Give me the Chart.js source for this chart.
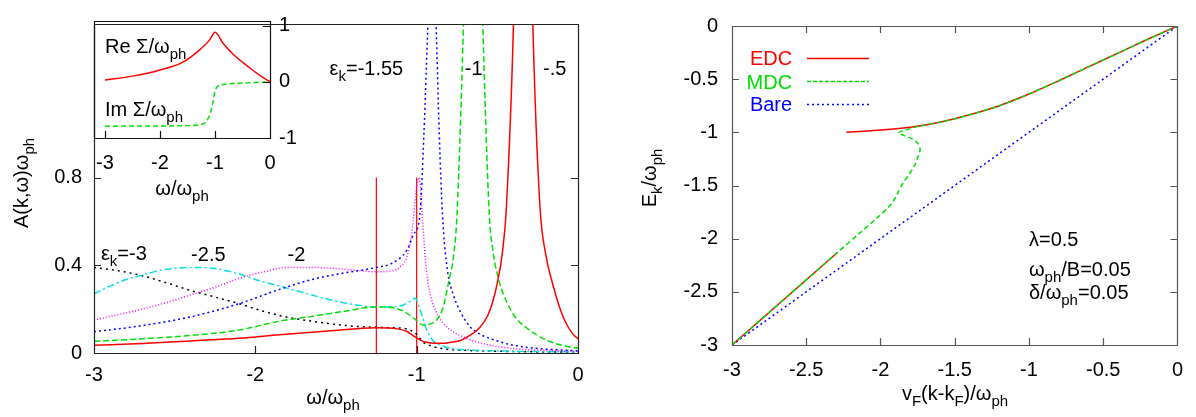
<!DOCTYPE html>
<html lang="en">
<head>
  <meta charset="UTF-8">
  <title>Spectral function and dispersion</title>
  <script src="https://cdn.jsdelivr.net/npm/chart.js"></script>
  <style>
    html, body { margin: 0; padding: 0; background: #fff; }
    .wrap { position: relative; width: 1196px; height: 417px; }
    .wrap canvas { position: absolute; left: 0; top: 0; }
  </style>
</head>
<body>
  <div class="wrap">
    <canvas id="mainChart" width="1196" height="417"></canvas>
    <canvas id="insetChart" width="1196" height="417"></canvas>
    <canvas id="dispChart" width="1196" height="417"></canvas>
  </div>

  <script>
    // ---- A(k,w) vs w/w_ph, one curve per bare energy eps_k ----
    const wK3 = [-3, -2.85, -2.7, -2.55, -2.4, -2.25, -2.1, -1.95, -1.8, -1.65, -1.5, -1.35, -1.25, -1.15, -1.06, -1.0, -0.96, -0.9, -0.81, -0.7, -0.5, -0.25, 0];
    const aK3 = [0.39, 0.375, 0.352, 0.32, 0.285, 0.255, 0.225, 0.19, 0.163, 0.145, 0.13, 0.12, 0.117, 0.115, 0.11, 0.085, 0.05, 0.03, 0.017, 0.012, 0.008, 0.005, 0.004];

    const wK25 = [-3, -2.9, -2.8, -2.7, -2.6, -2.5, -2.37, -2.25, -2.1, -2.0, -1.85, -1.7, -1.55, -1.4, -1.25, -1.15, -1.08, -1.03, -1.01, -0.98, -0.94, -0.9, -0.85, -0.78, -0.65, -0.4, 0];
    const aK25 = [0.27, 0.305, 0.335, 0.355, 0.375, 0.386, 0.39, 0.385, 0.36, 0.335, 0.305, 0.275, 0.245, 0.222, 0.21, 0.21, 0.22, 0.24, 0.25, 0.2, 0.11, 0.057, 0.035, 0.02, 0.013, 0.008, 0.005];

    const wK2 = [-3, -2.85, -2.7, -2.55, -2.4, -2.25, -2.1, -1.95, -1.8, -1.65, -1.5, -1.35, -1.25, -1.15, -1.1, -1.06, -1.03, -1.0, -0.985, -0.965, -0.94, -0.91, -0.88, -0.84, -0.78, -0.7, -0.6, -0.4, -0.2, 0];
    const aK2 = [0.15, 0.175, 0.2, 0.23, 0.265, 0.3, 0.34, 0.37, 0.39, 0.39, 0.385, 0.375, 0.37, 0.375, 0.395, 0.44, 0.55, 0.76, 0.8, 0.62, 0.38, 0.25, 0.19, 0.14, 0.1, 0.07, 0.045, 0.02, 0.012, 0.008];

    const wK155 = [-3, -2.7, -2.4, -2.1, -1.85, -1.65, -1.45, -1.25, -1.15, -1.06, -1.02, -0.98, -0.955, -0.93, -0.905, -0.88, -0.86, -0.84, -0.81, -0.77, -0.73, -0.67, -0.61, -0.5, -0.4, -0.2, 0];
    const aK155 = [0.097, 0.125, 0.165, 0.225, 0.29, 0.335, 0.365, 0.39, 0.41, 0.47, 0.54, 0.63, 1.0, 1.5, 1.9, 1.5, 1.0, 0.63, 0.38, 0.26, 0.19, 0.12, 0.087, 0.055, 0.035, 0.018, 0.01];

    const wK1 = [-3, -2.7, -2.4, -2.1, -1.85, -1.65, -1.45, -1.25, -1.15, -1.08, -1.02, -0.96, -0.9, -0.84, -0.8, -0.77, -0.75, -0.71, -0.68, -0.65, -0.62, -0.59, -0.55, -0.53, -0.49, -0.44, -0.38, -0.32, -0.25, -0.19, -0.1, 0];
    const aK1 = [0.053, 0.065, 0.08, 0.105, 0.145, 0.167, 0.19, 0.21, 0.207, 0.19, 0.16, 0.128, 0.137, 0.2, 0.33, 0.45, 0.63, 1.5, 2.4, 3.0, 2.4, 1.5, 0.63, 0.48, 0.33, 0.23, 0.155, 0.115, 0.08, 0.057, 0.035, 0.022];

    const wK05 = [-3, -2.7, -2.4, -2.1, -1.85, -1.55, -1.25, -1.12, -1.06, -1.02, -0.98, -0.94, -0.88, -0.84, -0.78, -0.73, -0.67, -0.61, -0.56, -0.53, -0.5, -0.47, -0.445, -0.4, -0.37, -0.34, -0.31, -0.28, -0.236, -0.2, -0.155, -0.11, -0.07, -0.03, 0];
    const aK05 = [0.035, 0.043, 0.055, 0.067, 0.083, 0.1, 0.115, 0.11, 0.098, 0.078, 0.06, 0.049, 0.044, 0.044, 0.05, 0.057, 0.08, 0.115, 0.17, 0.23, 0.32, 0.45, 0.65, 1.5, 2.6, 3.2, 2.6, 1.5, 0.67, 0.45, 0.31, 0.2, 0.13, 0.085, 0.065];

    // red markers at w = -1.25 and w = -1
    const markerW = [-1.25, -1.0];
    const markerTop = 0.8;

    const mainXTicks = [-3, -2, -1, 0];
    const mainYTicks = [0, 0.4, 0.8];

    // ---- inset: self energy ----
    const wSigma = [-3, -2.5, -2, -1.6, -1.3, -1.1, -1.0, -0.85, -0.67, -0.36, -0.15, 0];
    const reSigma = [0.03, 0.1, 0.21, 0.34, 0.55, 0.74, 0.88, 0.68, 0.49, 0.24, 0.09, 0];
    const wImSigma = [-3, -2, -1.5, -1.27, -1.17, -1.13, -1.08, -1.05, -1.02, -1.0, -0.96, -0.91, -0.8, -0.67, -0.4, 0];
    const imSigma = [-0.79, -0.785, -0.78, -0.76, -0.72, -0.66, -0.55, -0.42, -0.28, -0.17, -0.09, -0.06, -0.04, -0.03, -0.02, 0];
    const insetXTicks = [-3, -2, -1, 0];
    const insetYTicks = [-1, 0, 1];

    // ---- dispersion E_k vs v_F(k-k_F) ----
    const kBare = [-3, 0];
    const eBare = [-3, 0];
    const kEdcLow = [-3, -2.29];
    const eEdcLow = [-3, -2.13];
    const kEdc = [-2.23, -2.0, -1.8, -1.6, -1.4, -1.2, -1.0, -0.8, -0.6, -0.4, -0.2, 0];
    const eEdc = [-1.0, -0.978, -0.952, -0.905, -0.835, -0.75, -0.64, -0.515, -0.385, -0.255, -0.125, 0];
    const kMdc = [-3, -2.29, -2.15, -2.02, -1.95, -1.91, -1.88, -1.85, -1.81, -1.77, -1.745, -1.733, -1.75, -1.79, -1.85, -1.88, -1.84, -1.8, -1.75, -1.6, -1.4, -1.2, -1.0, -0.8, -0.6, -0.4, -0.2, 0];
    const eMdc = [-3, -2.13, -1.96, -1.8, -1.71, -1.64, -1.56, -1.48, -1.4, -1.31, -1.22, -1.16, -1.1, -1.06, -1.025, -1.005, -0.98, -0.965, -0.945, -0.905, -0.835, -0.75, -0.64, -0.515, -0.385, -0.255, -0.125, 0];
    const dispTicks = [-3, -2.5, -2, -1.5, -1, -0.5, 0];

    const FONT = '"Liberation Sans", Arial, Helvetica, sans-serif';
    Chart.defaults.font.family = FONT;
    Chart.defaults.font.size = 20;
    Chart.defaults.color = '#000';
    Chart.defaults.animation = false;

    function pts(xs, ys) {
      return xs.map((x, i) => ({ x, y: ys[i] }));
    }

    function curve(label, xs, ys, color, dash, extra) {
      return Object.assign({
        label,
        data: pts(xs, ys),
        showLine: true,
        borderColor: color,
        backgroundColor: color,
        borderWidth: 1.5,
        borderDash: dash || [],
        pointRadius: 0,
        pointHoverRadius: 0,
        fill: false
      }, extra || {});
    }

    // fixed axis sizes so the plot boxes land where the original has them
    const fixWidth = w => s => { s.width = w; };
    const fixHeight = h => s => { s.height = h; };
    const onlyTicks = vals => s => { s.ticks = vals.map(v => ({ value: v })); };

    function axis(opts, tickPad) {
      return Object.assign({
        type: 'linear',
        grid: { display: false, drawTicks: false },
        border: { display: false },
        ticks: { padding: tickPad, maxRotation: 0, autoSkip: false, callback: v => String(v) }
      }, opts);
    }

    /**
     * Text with _{sub} subscripts.
     */
    function parseRich(s) {
      const out = [];
      const re = /_\{([^}]*)\}/g;
      let last = 0, m;
      while ((m = re.exec(s))) {
        if (m.index > last) out.push([s.slice(last, m.index), false]);
        out.push([m[1], true]);
        last = re.lastIndex;
      }
      if (last < s.length) out.push([s.slice(last), false]);
      return out;
    }

    function drawRich(ctx, s, x, y, o) {
      const size = o.size || 20;
      const subSize = Math.round(size * 0.74);
      const segs = parseRich(s);
      ctx.save();
      ctx.fillStyle = o.color || '#000';
      ctx.textBaseline = 'alphabetic';
      ctx.textAlign = 'left';
      const fonts = segs.map(([, sub]) => `${sub ? subSize : size}px ${FONT}`);
      const widths = segs.map(([t], i) => { ctx.font = fonts[i]; return ctx.measureText(t).width; });
      const total = widths.reduce((a, b) => a + b, 0);
      ctx.translate(x, y);
      if (o.rotate) ctx.rotate(o.rotate);
      let cx = o.align === 'center' ? -total / 2 : o.align === 'right' ? -total : 0;
      segs.forEach(([t, sub], i) => {
        ctx.font = fonts[i];
        ctx.fillText(t, cx, sub ? size * 0.3 : 0);
        cx += widths[i];
      });
      ctx.restore();
    }

    // Labels either in pixels (px) or in data coordinates (at).
    function textPlugin(items, keys) {
      return {
        id: 'richText',
        afterDraw(chart) {
          const { ctx, scales } = chart;
          const pos = it => it.at
            ? [scales.x.getPixelForValue(it.at[0]), scales.y.getPixelForValue(it.at[1])]
            : it.px;
          items.forEach(it => {
            const [x, y] = pos(it);
            drawRich(ctx, it.text, x, y, it);
          });
          (keys || []).forEach(k => {
            const x1 = scales.x.getPixelForValue(k.from[0]);
            const x2 = scales.x.getPixelForValue(k.to);
            const y = Math.round(scales.y.getPixelForValue(k.from[1])) + 0.5;
            ctx.save();
            ctx.strokeStyle = k.color;
            ctx.lineWidth = 1.5;
            ctx.setLineDash(k.dash);
            ctx.beginPath();
            ctx.moveTo(x1, y);
            ctx.lineTo(x2, y);
            ctx.stroke();
            ctx.restore();
          });
        }
      };
    }

    // gnuplot style frame with ticks pointing inwards
    function framePlugin(o) {
      return {
        id: 'frame',
        afterDatasetsDraw(chart) {
          const { ctx, chartArea: a, scales } = chart;
          const len = 7;
          const seg = (x1, y1, x2, y2) => { ctx.moveTo(x1, y1); ctx.lineTo(x2, y2); };
          ctx.save();
          ctx.strokeStyle = o.color;
          ctx.lineWidth = 1.2;
          ctx.beginPath();
          ctx.rect(Math.round(a.left) + 0.5, Math.round(a.top) + 0.5, Math.round(a.right - a.left), Math.round(a.bottom - a.top));
          scales.x.ticks.forEach(t => {
            const px = Math.round(scales.x.getPixelForValue(t.value)) + 0.5;
            if (o.bottom) seg(px, a.bottom, px, a.bottom - len);
            if (o.top) seg(px, a.top, px, a.top + len);
          });
          scales.y.ticks.forEach(t => {
            const py = Math.round(scales.y.getPixelForValue(t.value)) + 0.5;
            if (o.left) seg(a.left, py, a.left + len, py);
            if (o.right) seg(a.right, py, a.right - len, py);
          });
          ctx.stroke();
          ctx.restore();
        }
      };
    }

    const baseOptions = {
      responsive: false,
      animation: false,
      events: [],
      plugins: { legend: { display: false }, tooltip: { enabled: false }, title: { display: false } }
    };

    // ---- left: spectral function ----
    new Chart(document.getElementById('mainChart'), {
      type: 'scatter',
      data: {
        datasets: [
          curve('eps=-0.5', wK05, aK05, '#ff0000', [], { cubicInterpolationMode: 'monotone' }),
          curve('eps=-1', wK1, aK1, '#00e000', [6, 3], { cubicInterpolationMode: 'monotone' }),
          curve('eps=-1.55', wK155, aK155, '#0000ff', [2, 3], { cubicInterpolationMode: 'monotone' }),
          curve('eps=-2', wK2, aK2, '#ff00ff', [1, 2], { cubicInterpolationMode: 'monotone' }),
          curve('eps=-2.5', wK25, aK25, '#00e0e0', [7, 3, 2, 3], { cubicInterpolationMode: 'monotone' }),
          curve('eps=-3', wK3, aK3, '#000000', [2, 4], { cubicInterpolationMode: 'monotone' }),
          curve('w=-1.25', [markerW[0], markerW[0]], [0, markerTop], '#ff0000', [], { borderWidth: 1.2 }),
          curve('w=-1', [markerW[1], markerW[1]], [0, markerTop], '#ff0000', [], { borderWidth: 1.2 })
        ]
      },
      options: Object.assign({}, baseOptions, {
        layout: { padding: { left: 0, top: 12, right: 618, bottom: 0 } },
        scales: {
          x: axis({ min: -3, max: 0, afterBuildTicks: onlyTicks(mainXTicks), afterFit: fixHeight(64) }, 10),
          y: axis({ min: 0, max: 1.5, afterBuildTicks: onlyTicks(mainYTicks), afterFit: fixWidth(94) }, 12)
        }
      }),
      plugins: [
        framePlugin({ color: '#222', bottom: true, left: true, right: true }),
        textPlugin([
          { text: 'A(k,ω)ω_{ph}', px: [28, 183], rotate: -Math.PI / 2, align: 'center' },
          { text: 'ω/ω_{ph}', px: [333, 404], align: 'center' },
          { text: 'ε_{k}=-3', at: [-2.957, 0.422] },
          { text: '-2.5', at: [-2.398, 0.418] },
          { text: '-2', at: [-1.80, 0.418] },
          { text: 'ε_{k}=-1.55', at: [-1.54, 1.266] },
          { text: '-1', at: [-0.702, 1.266] },
          { text: '-.5', at: [-0.217, 1.266] }
        ])
      ]
    });

    // ---- inset: Re / Im self energy ----
    new Chart(document.getElementById('insetChart'), {
      type: 'scatter',
      data: {
        datasets: [
          curve('Im', wImSigma, imSigma, '#00e000', [5, 3], { cubicInterpolationMode: 'monotone' }),
          curve('Re', wSigma, reSigma, '#ff0000', [], { cubicInterpolationMode: 'monotone' })
        ]
      },
      options: Object.assign({}, baseOptions, {
        layout: { padding: { left: 94, top: 12, right: 886, bottom: 0 } },
        scales: {
          x: axis({ min: -3.2, max: 0, afterBuildTicks: onlyTicks(insetXTicks), afterFit: fixHeight(279) }, 13),
          y: axis({ position: 'right', min: -1, max: 1.08, afterBuildTicks: onlyTicks(insetYTicks), afterFit: fixWidth(40) }, 9)
        }
      }),
      plugins: [
        framePlugin({ color: '#111', bottom: true, right: true }),
        textPlugin([
          { text: 'Re Σ/ω_{ph}', at: [-3, 0.51] },
          { text: 'Im Σ/ω_{ph}', at: [-3, -0.61] },
          { text: 'ω/ω_{ph}', px: [182, 195], align: 'center' }
        ])
      ]
    });

    // ---- right: dispersion ----
    new Chart(document.getElementById('dispChart'), {
      type: 'scatter',
      data: {
        datasets: [
          curve('MDC', kMdc, eMdc, '#00e000', [5, 3], { tension: 0.3 }),
          curve('EDC', kEdcLow, eEdcLow, '#ff0000', []),
          curve('EDC', kEdc, eEdc, '#ff0000', [], { tension: 0.25 }),
          curve('Bare', kBare, eBare, '#0000ff', [2, 3])
        ]
      },
      options: Object.assign({}, baseOptions, {
        layout: { padding: { left: 0, top: 15, right: 12, bottom: 0 } },
        scales: {
          x: axis({ min: -3, max: 0, afterBuildTicks: onlyTicks(dispTicks), afterFit: fixHeight(72) }, 13),
          y: axis({ min: -3, max: 0, afterBuildTicks: onlyTicks(dispTicks), afterFit: fixWidth(732) }, 14)
        }
      }),
      plugins: [
        framePlugin({ color: '#555', bottom: true, top: true, left: true, right: true }),
        textPlugin([
          { text: 'E_{k}/ω_{ph}', px: [656, 178], rotate: -Math.PI / 2, align: 'center' },
          { text: 'v_{F}(k-k_{F})/ω_{ph}', px: [955, 400], align: 'center' },
          { text: 'EDC', at: [-2.595, -0.364], align: 'right', color: '#ff0000' },
          { text: 'MDC', at: [-2.595, -0.591], align: 'right', color: '#00e000' },
          { text: 'Bare', at: [-2.595, -0.8], align: 'right', color: '#0000ff' },
          { text: 'λ=0.5', at: [-1.0, -2.073] },
          { text: 'ω_{ph}/B=0.05', at: [-1.0, -2.355] },
          { text: 'δ/ω_{ph}=0.05', at: [-1.0, -2.564] }
        ], [
          { from: [-2.495, -0.3], to: -2.077, color: '#ff0000', dash: [] },
          { from: [-2.495, -0.518], to: -2.077, color: '#00e000', dash: [4, 2] },
          { from: [-2.495, -0.736], to: -2.077, color: '#0000ff', dash: [2, 3] }
        ])
      ]
    });
  </script>
</body>
</html>
